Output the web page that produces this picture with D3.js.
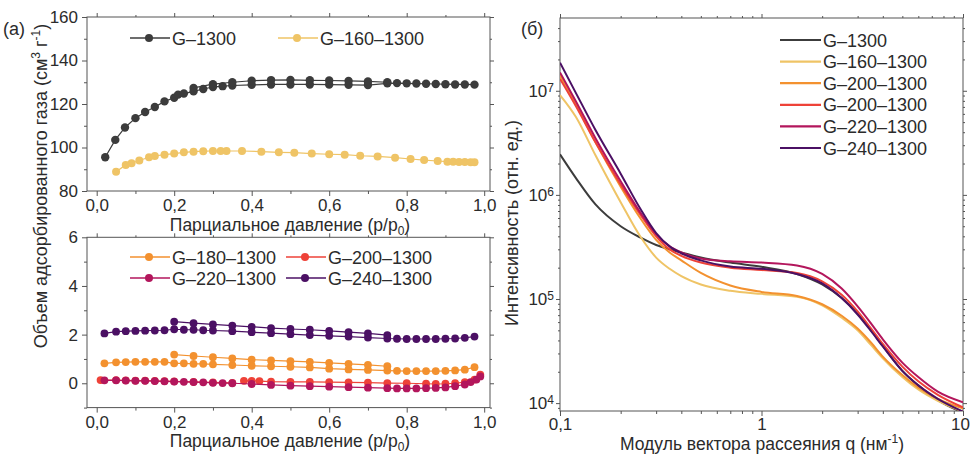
<!DOCTYPE html>
<html lang="ru">
<head>
<meta charset="UTF-8">
<title>Изотермы сорбции и МУРР</title>
<script src="https://cdn.jsdelivr.net/npm/d3@7"></script>
<style>
  body { margin: 0; background: #fff; }
  svg text { font-family: "Liberation Sans", Arial, sans-serif; fill: #2b2b2b; }
</style>
</head>
<body>
<svg id="chart" width="972" height="454"></svg>
<script>
// ---- panel (а), top: isotherms G-1300 / G-160-1300
const pG1300Ads = [0.022, 0.048, 0.073, 0.1, 0.125, 0.15, 0.175, 0.2, 0.21, 0.225, 0.25, 0.275, 0.3, 0.325, 0.35, 0.4, 0.45, 0.5, 0.55, 0.6, 0.65, 0.7, 0.75, 0.775, 0.8, 0.825, 0.85, 0.875, 0.9, 0.925, 0.95, 0.975];
const vG1300Ads = [95.5, 103.5, 109.2, 113.5, 116.3, 118.6, 121.2, 122.9, 124.3, 124.8, 125.8, 126.9, 127.8, 128.2, 128.5, 128.8, 129, 129, 129, 128.9, 128.8, 128.7, 129.5, 129.6, 129.5, 129.4, 129.3, 129.2, 129.1, 129, 129, 128.9];
const pG1300Des = [0.75, 0.7, 0.65, 0.6, 0.55, 0.5, 0.45, 0.4, 0.35, 0.3, 0.25];
const vG1300Des = [130, 130.4, 130.6, 130.8, 130.9, 131.1, 131, 130.7, 130, 129.1, 127.4];
const pG160 = [0.05, 0.075, 0.09, 0.11, 0.135, 0.15, 0.175, 0.2, 0.225, 0.25, 0.275, 0.3, 0.32, 0.335, 0.375, 0.425, 0.47, 0.51, 0.555, 0.6, 0.64, 0.68, 0.725, 0.77, 0.81, 0.845, 0.88, 0.905, 0.92, 0.935, 0.95, 0.965, 0.975];
const vG160 = [88.9, 92.0, 92.8, 94.0, 95.5, 96.1, 96.7, 97.2, 97.8, 98.1, 98.3, 98.4, 98.4, 98.4, 98.4, 98.1, 97.8, 97.6, 97.2, 96.9, 96.7, 96.2, 95.9, 95.3, 94.7, 94.2, 93.8, 93.5, 93.4, 93.3, 93.3, 93.2, 93.2];

// ---- panel (а), bottom: isotherms of modified samples
const pAds = [0.02, 0.05, 0.075, 0.1, 0.125, 0.15, 0.175, 0.2, 0.225, 0.25, 0.275, 0.3, 0.35, 0.4, 0.45, 0.5, 0.55, 0.6, 0.65, 0.7, 0.75, 0.775, 0.8, 0.825, 0.85, 0.875, 0.9, 0.925, 0.95, 0.975];
const pDes = [0.75, 0.7, 0.65, 0.6, 0.55, 0.5, 0.45, 0.4, 0.35, 0.3, 0.25, 0.2];
const vG180Ads = [0.82, 0.86, 0.87, 0.88, 0.88, 0.88, 0.88, 0.82, 0.82, 0.8, 0.8, 0.78, 0.75, 0.72, 0.7, 0.68, 0.65, 0.6, 0.57, 0.55, 0.52, 0.51, 0.5, 0.5, 0.5, 0.5, 0.51, 0.53, 0.56, 0.66];
const vG180Des = [0.7, 0.76, 0.8, 0.84, 0.88, 0.91, 0.94, 0.97, 1.02, 1.07, 1.12, 1.18];
const vG240Ads = [2.05, 2.12, 2.14, 2.15, 2.16, 2.17, 2.18, 2.22, 2.2, 2.2, 2.18, 2.17, 2.14, 2.1, 2.06, 2.02, 1.98, 1.95, 1.92, 1.88, 1.84, 1.83, 1.82, 1.82, 1.82, 1.82, 1.83, 1.84, 1.87, 1.92];
const vG240Des = [1.98, 2.05, 2.1, 2.15, 2.2, 2.23, 2.27, 2.32, 2.37, 2.42, 2.47, 2.53];
const pG220 = [0.02, 0.05, 0.075, 0.1, 0.125, 0.15, 0.175, 0.2, 0.225, 0.25, 0.275, 0.3, 0.325, 0.35, 0.4, 0.45, 0.5, 0.55, 0.6, 0.65, 0.7, 0.75, 0.775, 0.8, 0.825, 0.85, 0.875, 0.9, 0.925, 0.95, 0.965, 0.98, 0.99];
const vG220 = [0.12, 0.12, 0.11, 0.1, 0.1, 0.09, 0.08, 0.07, 0.06, 0.05, 0.04, 0.02, 0.01, 0, -0.03, -0.07, -0.1, -0.12, -0.14, -0.16, -0.18, -0.2, -0.21, -0.21, -0.21, -0.2, -0.19, -0.17, -0.12, -0.05, 0.05, 0.15, 0.28];
const pG200Ads = [0.01, 0.05, 0.075, 0.1, 0.125, 0.15, 0.175, 0.2, 0.25, 0.3, 0.35];
const vG200Ads = [0.13, 0.13, 0.12, 0.11, 0.11, 0.1, 0.09, 0.08, 0.06, 0.04, 0.02];
const pG200Des = [0.99, 0.975, 0.95, 0.925, 0.9, 0.875, 0.85, 0.8, 0.75, 0.7, 0.65, 0.6, 0.55, 0.5, 0.45, 0.42, 0.4, 0.38];
const vG200Des = [0.35, 0.15, 0.05, 0.0, -0.02, -0.03, -0.02, 0.0, 0.01, 0.03, 0.04, 0.05, 0.06, 0.06, 0.07, 0.09, 0.1, 0.1];

// ---- panel (б): SAXS curves
const q = [0.1, 0.12, 0.15, 0.2, 0.25, 0.3, 0.35, 0.4, 0.5, 0.7, 1, 1.5, 2, 2.5, 3, 3.5, 4, 5, 6, 7.5, 10];
const iG1300 = [2.45e6, 1.45e6, 8.1e5, 5.0e5, 3.9e5, 3.3e5, 3.0e5, 2.8e5, 2.5e5, 2.24e5, 2.04e5, 1.74e5, 1.38e5, 1.02e5, 7.2e4, 5.0e4, 3.55e4, 2.04e4, 1.48e4, 1.07e4, 8.1e3];
const iG160 = [9.1e6, 5.6e6, 2.4e6, 8.5e5, 4.0e5, 2.5e5, 1.95e5, 1.66e5, 1.38e5, 1.2e5, 1.12e5, 1.05e5, 8.7e4, 6.6e4, 5.0e4, 3.6e4, 2.7e4, 1.78e4, 1.35e4, 1.05e4, 8.3e3];
const iG200a = [1.4e7, 7.4e6, 3.2e6, 1.2e6, 6.0e5, 3.7e5, 2.8e5, 2.35e5, 1.78e5, 1.35e5, 1.17e5, 1.07e5, 8.9e4, 6.9e4, 5.2e4, 3.8e4, 2.8e4, 1.86e4, 1.41e4, 1.1e4, 8.9e3];
const iG200b = [1.3e7, 7.1e6, 3.2e6, 1.26e6, 6.5e5, 4.0e5, 3.0e5, 2.6e5, 2.24e5, 2.0e5, 1.9e5, 1.78e5, 1.48e5, 1.1e5, 7.6e4, 5.2e4, 3.7e4, 2.24e4, 1.62e4, 1.2e4, 9.1e3];
const iG220 = [1.5e7, 7.9e6, 3.5e6, 1.35e6, 6.8e5, 4.2e5, 3.2e5, 2.8e5, 2.45e5, 2.3e5, 2.24e5, 2.1e5, 1.74e5, 1.26e5, 8.5e4, 5.8e4, 4.1e4, 2.45e4, 1.78e4, 1.29e4, 1.02e4];
const iG240 = [1.86e7, 9.5e6, 4.2e6, 1.6e6, 7.4e5, 4.3e5, 3.2e5, 2.75e5, 2.35e5, 2.05e5, 1.95e5, 1.74e5, 1.41e5, 1.02e5, 7.1e4, 4.9e4, 3.5e4, 2.04e4, 1.48e4, 1.1e4, 8.3e3];

const xTicks = [0, 0.2, 0.4, 0.6, 0.8, 1.0];
const xMinor = [0.1, 0.3, 0.5, 0.7, 0.9];
const yTopTicks = [80, 100, 120, 140, 160];
const yTopMinor = [90, 110, 130, 150];
const yBotTicks = [0, 2, 4, 6];
const yBotMinor = [-1, 1, 3, 5];
const qTicks = [0.1, 1, 10];
const iTicks = [1e4, 1e5, 1e6, 1e7];

const colors = {
    g1300: "#3c3c3c", g160: "#efc466", g180: "#f3912f", g200: "#ee4238",
    g220: "#b3165c", g240: "#4b1064"
};

const svg = d3.select("#chart");
const comma = d => d3.format(".1f")(d).replace(".", ",");

const axisFns = {bottom: d3.axisBottom, top: d3.axisTop, left: d3.axisLeft, right: d3.axisRight};
function addAxis(scale, orient, tx, ty, values, size, fmt, pad) {
    const ax = axisFns[orient](scale).tickValues(values)
        .tickSizeInner(size).tickSizeOuter(0).tickPadding(pad || 3)
        .tickFormat(fmt || "");
    const a = svg.append("g").attr("transform", `translate(${tx},${ty})`).call(ax);
    a.select(".domain").remove();
    a.selectAll("line").attr("stroke", "#555");
    a.selectAll("text").attr("font-size", 17);
    return a;
}
function frame(x0, y0, x1, y1) {
    svg.append("rect").attr("x", x0).attr("y", y0)
        .attr("width", x1 - x0).attr("height", y1 - y0)
        .attr("fill", "none").attr("stroke", "#555").attr("stroke-width", 1);
}

// ============ left panels
const xL = d3.scaleLinear().domain([-0.025, 1.015]).range([87, 490]);
const yTop = d3.scaleLinear().domain([80, 160]).range([191, 17]);
const yBot = d3.scaleLinear().domain([-1, 6]).range([407.6, 237.3]);

function isoPanel(y, yMajor, yMinor, yFmt) {
    const [b, t] = y.range();
    addAxis(xL, "bottom", 0, b, xTicks, 5, comma, 3);
    addAxis(xL, "bottom", 0, b, xMinor, 3);
    addAxis(xL, "top", 0, t, xTicks, 4);
    addAxis(xL, "top", 0, t, xMinor, 2);
    addAxis(y, "left", 87, 0, yMajor, 5, yFmt, 4);
    addAxis(y, "left", 87, 0, yMinor, 3);
    addAxis(y, "right", 490, 0, yMajor, 4);
    addAxis(y, "right", 490, 0, yMinor, 2);
    frame(87, t, 490, b);
}
isoPanel(yTop, yTopTicks, yTopMinor, d3.format("d"));
isoPanel(yBot, yBotTicks, yBotMinor, d3.format("d"));

function drawIso(y, px, vy, color, r) {
    const pts = px.map((p, i) => [p, vy[i]]);
    svg.append("path").datum(pts)
        .attr("fill", "none").attr("stroke", color).attr("stroke-width", 1.2)
        .attr("d", d3.line().x(d => xL(d[0])).y(d => y(d[1])));
    svg.append("g").selectAll("circle").data(pts).enter().append("circle")
        .attr("cx", d => xL(d[0])).attr("cy", d => y(d[1]))
        .attr("r", r).attr("fill", color);
}

drawIso(yTop, pG160, vG160, colors.g160, 4);
drawIso(yTop, pG1300Ads, vG1300Ads, colors.g1300, 4.2);
drawIso(yTop, pG1300Des, vG1300Des, colors.g1300, 4.2);

drawIso(yBot, pAds, vG180Ads, colors.g180, 3.9);
drawIso(yBot, pDes, vG180Des, colors.g180, 3.9);
drawIso(yBot, pG200Ads, vG200Ads, colors.g200, 3.9);
drawIso(yBot, pG200Des, vG200Des, colors.g200, 3.9);
drawIso(yBot, pG220, vG220, colors.g220, 3.9);
drawIso(yBot, pAds, vG240Ads, colors.g240, 3.9);
drawIso(yBot, pDes, vG240Des, colors.g240, 3.9);

// legends of left panels
function dotLegend(x, y, label, color) {
    svg.append("line").attr("x1", x).attr("x2", x + 40).attr("y1", y).attr("y2", y)
        .attr("stroke", color).attr("stroke-width", 1.5);
    svg.append("circle").attr("cx", x + 19).attr("cy", y).attr("r", 4).attr("fill", color);
    svg.append("text").attr("x", x + 42).attr("y", y + 6.5).attr("font-size", 18).text(label);
}
dotLegend(130, 38, "G–1300", colors.g1300);
dotLegend(278, 38, "G–160–1300", colors.g160);
dotLegend(130, 257, "G–180–1300", colors.g180);
dotLegend(286, 257, "G–200–1300", colors.g200);
dotLegend(130, 278, "G–220–1300", colors.g220);
dotLegend(286, 278, "G–240–1300", colors.g240);

// axis titles, left
function pressTitle(yb) {
    const t = svg.append("text").attr("x", 290).attr("y", yb)
        .attr("text-anchor", "middle").attr("font-size", 17.5);
    t.append("tspan").text("Парциальное давление (p/p");
    t.append("tspan").attr("dy", 4).attr("font-size", 12).text("0");
    t.append("tspan").attr("dy", -4).text(")");
}
pressTitle(230.5);
pressTitle(447);

const yl = svg.append("text").attr("transform", "translate(47,186) rotate(-90)")
    .attr("text-anchor", "middle").attr("font-size", 18);
yl.append("tspan").text("Объем адсорбированного газа (см");
yl.append("tspan").attr("dy", -7).attr("font-size", 12).text("3");
yl.append("tspan").attr("dy", 7).text(" г");
yl.append("tspan").attr("dy", -7).attr("font-size", 12).text("-1");
yl.append("tspan").attr("dy", 7).text(")");

svg.append("text").attr("x", 3).attr("y", 35).attr("font-size", 18).text("(а)");

// ============ right panel
const xR = d3.scaleLog().domain([0.1, 10]).range([560, 963]);
const yR = d3.scaleLog().domain([8.4e3, 5.0e7]).range([411, 18]);

const qMinor = [], iMinor = [];
for (let k = 2; k <= 9; k++) { qMinor.push(k * 0.1, k * 1); }
for (let e = 3; e <= 7; e++) {
    for (let k = 2; k <= 9; k++) {
        const v = k * Math.pow(10, e);
        if (v > 8.4e3 && v < 5e7) iMinor.push(v);
    }
}

const xAx = addAxis(xR, "bottom", 0, 411, qTicks, 5, d => d < 1 ? "0,1" : d3.format("d")(d), 2);
xAx.selectAll(".tick text").filter(d => d === 10).attr("dx", -3);
addAxis(xR, "bottom", 0, 411, qMinor, 3);
addAxis(xR, "top", 0, 18, qTicks, 4);
addAxis(xR, "top", 0, 18, qMinor, 2);
const yAx = addAxis(yR, "left", 560, 0, iTicks, 4, d => "x", 2);
yAx.selectAll(".tick text").text(null).each(function(d) {
    const t = d3.select(this);
    t.append("tspan").text("10");
    t.append("tspan").attr("dy", "-0.4em").attr("font-size", 12).text(Math.round(Math.log10(d)));
});
addAxis(yR, "left", 560, 0, iMinor, 2);
addAxis(yR, "right", 963, 0, iTicks, 4);
addAxis(yR, "right", 963, 0, iMinor, 2);
frame(560, 18, 963, 411);

svg.append("defs").append("clipPath").attr("id", "clipR")
    .append("rect").attr("x", 560).attr("y", 18).attr("width", 403).attr("height", 393);

const saxs = [
    {label: "G–1300", vals: iG1300, color: colors.g1300},
    {label: "G–160–1300", vals: iG160, color: colors.g160},
    {label: "G–200–1300", vals: iG200a, color: colors.g180},
    {label: "G–200–1300", vals: iG200b, color: colors.g200},
    {label: "G–220–1300", vals: iG220, color: colors.g220},
    {label: "G–240–1300", vals: iG240, color: colors.g240}
];
const lineR = d3.line().x(d => xR(d[0])).y(d => yR(d[1])).curve(d3.curveMonotoneX);
svg.append("g").attr("clip-path", "url(#clipR)")
    .selectAll("path").data(saxs).enter().append("path")
    .attr("fill", "none").attr("stroke", d => d.color).attr("stroke-width", 2)
    .attr("d", d => lineR(q.map((v, i) => [v, d.vals[i]])));

const lg = svg.append("g").selectAll("g").data(saxs).enter().append("g")
    .attr("transform", (d, i) => `translate(780,${40 + i * 21.6})`);
lg.append("line").attr("x1", 0).attr("x2", 41).attr("stroke", d => d.color).attr("stroke-width", 2.2);
lg.append("text").attr("x", 43).attr("y", 6.5).attr("font-size", 18).text(d => d.label);

const xt = svg.append("text").attr("x", 762).attr("y", 450)
    .attr("text-anchor", "middle").attr("font-size", 17.5);
xt.append("tspan").text("Модуль вектора рассеяния q (нм");
xt.append("tspan").attr("dy", -7).attr("font-size", 12).text("-1");
xt.append("tspan").attr("dy", 7).text(")");

svg.append("text").attr("transform", "translate(518,223) rotate(-90)")
    .attr("text-anchor", "middle").attr("font-size", 18).text("Интенсивность (отн. ед.)");

svg.append("text").attr("x", 521).attr("y", 35).attr("font-size", 18).text("(б)");
</script>
</body>
</html>
